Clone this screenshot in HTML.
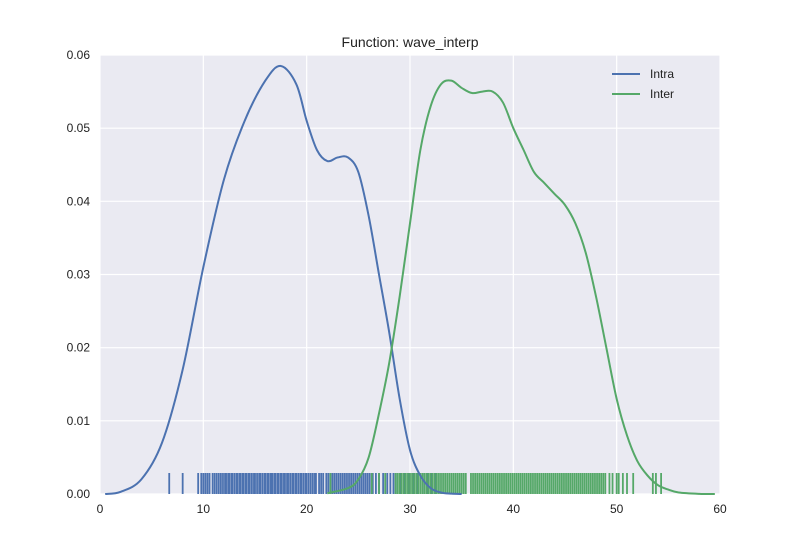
<!DOCTYPE html>
<html><head><meta charset="utf-8"><style>
body{margin:0;background:#fff;font-family:"Liberation Sans",Arial,sans-serif}
svg text{font-family:"Liberation Sans",Arial,sans-serif;font-size:12px;fill:#222}
</style></head><body>
<svg id="chart" width="800" height="550">
<rect x="100" y="55" width="620" height="439" fill="#eaeaf2"/>
<g id="grid"></g><g id="rugs"></g><g id="lines"></g><g id="axes"></g>
<text x="410" y="47" text-anchor="middle" style="font-size:14px">Function: wave_interp</text>
<g>
<line x1="612" y1="74" x2="640" y2="74" stroke="#4c72b0" stroke-width="2"/>
<text x="650" y="78">Intra</text>
<line x1="612" y1="94" x2="640" y2="94" stroke="#55a868" stroke-width="2"/>
<text x="650" y="98">Inter</text>
</g>
</svg>
<script>
const xTicks=[0,10,20,30,40,50,60];
const yTicks=[0,0.01,0.02,0.03,0.04,0.05,0.06];
const intraX=[0.5,2,4,6,8,10,12,14,16,17.5,19,20,21,22,23,24,25,26,27,28,29,30,31,32,33,34,35];
const intraY=[0,0.0003,0.002,0.007,0.017,0.031,0.043,0.051,0.0565,0.0585,0.056,0.051,0.047,0.0455,0.046,0.046,0.044,0.038,0.030,0.022,0.013,0.006,0.0025,0.0008,0.0002,0.00005,0];
const interX=[22,24,25,26,27,28,29,30,31,32,33,34,35,36,37,38,39,40,41,42,43,44,45,46,47,48,49,50,51,52,53,54,55,56,58,59.5];
const interY=[0.0001,0.0008,0.002,0.005,0.011,0.018,0.027,0.037,0.047,0.053,0.056,0.0565,0.0555,0.0548,0.055,0.055,0.0535,0.050,0.047,0.044,0.0425,0.041,0.0395,0.037,0.033,0.027,0.020,0.013,0.008,0.0045,0.0025,0.0012,0.0006,0.0002,0.00002,0];
const intraRug=[6.7,8.0,9.5,9.8,10.0,10.2,10.4,10.6,10.9,11.1,11.3,11.5,11.7,11.9,12.1,12.2,12.4,12.5,12.7,12.8,13.0,13.2,13.3,13.5,13.6,13.8,13.9,14.1,14.2,14.4,14.5,14.7,14.9,15.0,15.2,15.4,15.5,15.7,15.9,16.0,16.2,16.3,16.5,16.6,16.7,16.9,17.0,17.2,17.3,17.5,17.6,17.8,17.9,18.1,18.2,18.4,18.6,18.7,18.9,19.0,19.2,19.4,19.5,19.7,19.9,20.0,20.2,20.4,20.6,20.8,20.9,21.2,21.4,21.6,21.9,22.1,22.3,22.5,22.7,22.9,23.1,23.3,23.5,23.7,23.9,24.1,24.3,24.5,24.7,24.9,25.1,25.3,25.5,25.7,25.9,26.1,26.4,26.7,27.0,27.4,27.8,28.1,28.4,28.8,29.1,29.5,29.9,30.3,30.7,31.2,31.7,32.1,32.5];
const interRug=[22.3,26.3,27.0,27.6,28.6,28.8,29.0,29.2,29.4,29.6,29.8,30.0,30.2,30.4,30.6,30.8,31.0,31.2,31.4,31.6,31.8,32.0,32.2,32.4,32.6,32.8,33.0,33.2,33.4,33.6,33.8,34.0,34.2,34.4,34.6,34.8,35.0,35.2,35.4,35.9,36.1,36.3,36.5,36.7,36.9,37.1,37.3,37.5,37.7,37.9,38.1,38.3,38.5,38.7,38.9,39.1,39.3,39.5,39.7,39.9,40.1,40.3,40.5,40.7,40.9,41.1,41.3,41.5,41.7,41.9,42.1,42.3,42.5,42.7,42.9,43.1,43.3,43.5,43.7,43.9,44.1,44.3,44.5,44.7,44.9,45.1,45.3,45.5,45.7,45.9,46.1,46.3,46.5,46.7,46.9,47.1,47.3,47.5,47.7,47.9,48.1,48.3,48.5,48.7,48.9,49.3,49.6,50.0,50.2,50.6,51.0,51.6,53.5,53.8,54.3];
const X=v=>100+v*620/60, Y=v=>494-v*439/0.06;
const NS='http://www.w3.org/2000/svg';
function mk(tag,attrs,parent){const e=document.createElementNS(NS,tag);for(const k in attrs)e.setAttribute(k,attrs[k]);parent.appendChild(e);return e;}
const grid=document.getElementById('grid'),axes=document.getElementById('axes'),rugs=document.getElementById('rugs'),lines=document.getElementById('lines');
xTicks.forEach(t=>{
 const l=mk('line',{x1:X(t),x2:X(t),y1:55,y2:494,stroke:'#fff','stroke-width':1.2},grid);
 
 
 const tx=mk('text',{x:X(t),y:513,'text-anchor':'middle'},axes);tx.textContent=t;
 
 
});
yTicks.forEach(t=>{
 const l=mk('line',{x1:100,x2:720,y1:Y(t),y2:Y(t),stroke:'#fff','stroke-width':1.2},grid);
 
 
 const tx=mk('text',{x:90,y:Y(t)+4,'text-anchor':'end'},axes);tx.textContent=t.toFixed(2);
 
 
});
function rug(vals,color,name){vals.forEach(v=>{const l=mk('line',{x1:X(v),x2:X(v),y1:473,y2:494,stroke:color,'stroke-width':1.8},rugs);
 
 });}
rug(intraRug,'#4c72b0','rug-tick-intra');
rug(interRug,'#55a868','rug-tick-inter');
function path(xs,ys){const p=xs.map((x,i)=>[X(x),Y(ys[i])]);let d='M'+p[0][0]+','+p[0][1];
 for(let i=0;i<p.length-1;i++){const p0=p[Math.max(0,i-1)],p1=p[i],p2=p[i+1],p3=p[Math.min(p.length-1,i+2)];
 d+=' C'+(p1[0]+(p2[0]-p0[0])/6)+','+(p1[1]+(p2[1]-p0[1])/6)+' '+(p2[0]-(p3[0]-p1[0])/6)+','+(p2[1]-(p3[1]-p1[1])/6)+' '+p2[0]+','+p2[1];}
 return d;}
const a=mk('path',{d:path(intraX,intraY),fill:'none',stroke:'#4c72b0','stroke-width':2},lines);


const b=mk('path',{d:path(interX,interY),fill:'none',stroke:'#55a868','stroke-width':2},lines);


</script>
</body></html>
